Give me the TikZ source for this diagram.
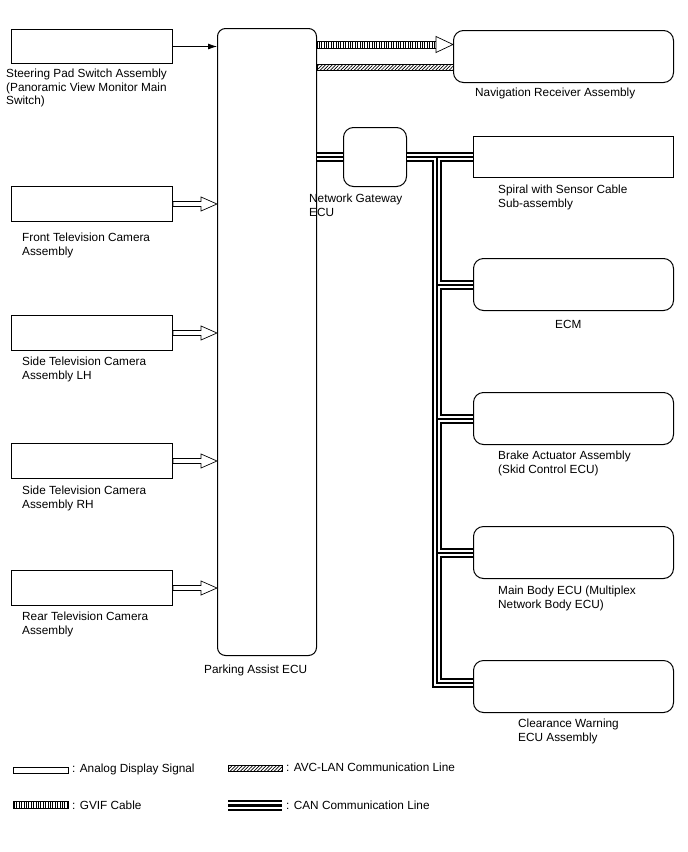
\documentclass[tikz,border=0pt]{standalone}
\usepackage{fontspec}
\setmainfont{Liberation Sans}
\usetikzlibrary{arrows.meta, calc, patterns.meta}

\begin{document}
\begin{tikzpicture}[x=1pt, y=-1pt, font=\fontsize{11.8}{13.5}\selectfont, >=Latex,
        unit/.style={draw, line width=1pt, anchor=north west, inner sep=0pt},
        cam/.style={unit, minimum width=161pt, minimum height=35pt},
        ecu/.style={unit, rounded corners=10pt, minimum width=200pt, minimum height=52pt},
        lbl/.style={anchor=north west, inner sep=0pt, align=left},
        analog/.style={draw, line width=0.7pt, fill=white,
            to path={let \p1=(\tikztostart), \p2=(\tikztotarget) in
                (\x1,\y1+2.5pt) -- (\x2-16pt,\y1+2.5pt) -- (\x2-16pt,\y1+7pt) -- (\x2,\y1)
                -- (\x2-16pt,\y1-7pt) -- (\x2-16pt,\y1-2.5pt) -- (\x1,\y1-2.5pt) -- cycle}},
        gvif/.style={draw, line width=0.6pt, pattern={Lines[angle=90,distance=2.4pt,line width=0.9pt]},
            to path={let \p1=(\tikztostart), \p2=(\tikztotarget) in
                (\x1,\y1+3.5pt) rectangle (\x2-17pt,\y1-3.5pt)}},
        gvifhead/.style={draw, line width=0.7pt, fill=white,
            to path={let \p1=(\tikztostart), \p2=(\tikztotarget) in
                (\x2-17pt,\y1+8pt) -- (\x2,\y1) -- (\x2-17pt,\y1-8pt) -- cycle}},
        avc/.style={draw, line width=0.6pt, pattern={Lines[angle=45,distance=2.4pt,line width=0.7pt]},
            to path={let \p1=(\tikztostart), \p2=(\tikztotarget) in
                (\x1,\y1+3pt) rectangle (\x2,\y1-3pt)}}]
    \useasboundingbox (0,0) rectangle (688,852);
    % units
    \node[cam, minimum height=34pt] (steer) at (11,29) {};
    \node[cam] (front) at (11,186) {};
    \node[cam] (sidel) at (11,315) {};
    \node[cam] (sider) at (11,443) {};
    \node[cam] (rear)  at (11,570) {};
    \node[unit, rounded corners=8pt, minimum width=99pt, minimum height=627pt] (pa) at (217,28) {};
    \node[unit, rounded corners=10pt, minimum width=220pt, minimum height=52pt] (nav) at (453,30) {};
    \node[unit, rounded corners=10pt, minimum width=63pt, minimum height=59pt] (gw) at (343,127) {};
    \node[unit, minimum width=200pt, minimum height=41pt] (spiral) at (473,136) {};
    \node[ecu] (ecm)   at (473,258) {};
    \node[ecu] (brake) at (473,392) {};
    \node[ecu] (body)  at (473,526) {};
    \node[ecu] (clear) at (473,660) {};
    % labels
    \node[lbl] (steerlbl)  at (6,69)    {Steering Pad Switch Assembly\\(Panoramic View Monitor Main\\Switch)};
    \node[lbl] (frontlbl)  at (22,233)  {Front Television Camera\\Assembly};
    \node[lbl] (sidellbl)  at (22,357)  {Side Television Camera\\Assembly LH};
    \node[lbl] (siderlbl)  at (22,486)  {Side Television Camera\\Assembly RH};
    \node[lbl] (rearlbl)   at (22,612)  {Rear Television Camera\\Assembly};
    \node[lbl] (palbl)     at (204,665) {Parking Assist ECU};
    \node[lbl] (navlbl)    at (475,88)  {Navigation Receiver Assembly};
    \node[lbl] (gwlbl)     at (309,194) {Network Gateway\\ECU};
    \node[lbl] (spirallbl) at (498,185) {Spiral with Sensor Cable\\Sub-assembly};
    \node[lbl] (ecmlbl)    at (555,320) {ECM};
    \node[lbl] (brakelbl)  at (498,451) {Brake Actuator Assembly\\(Skid Control ECU)};
    \node[lbl] (bodylbl)   at (498,586) {Main Body ECU (Multiplex\\Network Body ECU)};
    \node[lbl] (clearlbl)  at (518,719) {Clearance Warning\\ECU Assembly};
    % signals
    \draw[line width=0.8pt, -{Latex[length=9pt,width=6pt]}] (steer.east) -- (pa.west |- steer.east);
    \foreach \cam in {front,sidel,sider,rear} \draw[analog] (\cam.east) to (pa.west |- \cam.east);
    \coordinate (gv) at ([yshift=12pt]nav.west);
    \coordinate (av) at ([yshift=-11pt]nav.west);
    \draw[gvif] (pa.east |- gv) to (gv);
    \draw[gvifhead] (pa.east |- gv) to (gv);
    \draw[avc] (pa.east |- av) to (av);
    % CAN bus
    \coordinate (bus) at ($(gw.east)!0.46!(spiral.west)$);
    \foreach \lw/\col in {10pt/black, 6pt/white, 2pt/black} {
        \draw[line width=\lw, \col] (pa.east |- gw.west) -- (gw.west);
        \draw[line width=\lw, \col] (gw.east) -- (spiral.west);
        \draw[line width=\lw, \col, line join=miter] (bus) |- ([yshift=4pt]clear.west);
        \foreach \ecu in {ecm,brake,body} \draw[line width=\lw, \col] (bus |- \ecu.west) -- (\ecu.west);
    }
    % legend
    \draw[line width=0.7pt] (13,767) rectangle (68,773);
    \node[lbl] (lgana) at (72,764) {: Analog Display Signal};
    \draw[line width=0.6pt, pattern={Lines[angle=45,distance=2.4pt,line width=0.7pt]}] (228,765) rectangle (282,771);
    \node[lbl] (lgavc) at (286,763) {: AVC-LAN Communication Line};
    \draw[line width=0.6pt, pattern={Lines[angle=90,distance=2.4pt,line width=0.9pt]}] (13,801) rectangle (68,808);
    \node[lbl] (lggvif) at (72,801) {: GVIF Cable};
    \foreach \lw/\col in {11pt/black, 6.4pt/white, 2.4pt/black}
        \draw[line width=\lw, \col] (228,805.5) -- (282,805.5);
    \node[lbl] (lgcan) at (286,801) {: CAN Communication Line};
\end{tikzpicture}
\end{document}
